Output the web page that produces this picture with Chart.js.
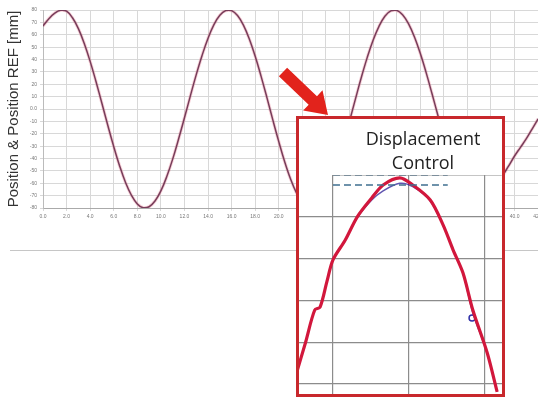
<!DOCTYPE html>
<html>
<head>
<meta charset="utf-8">
<script src="https://cdn.jsdelivr.net/npm/chart.js@4.4.1/dist/chart.umd.min.js"></script>
<style>
  html, body { margin: 0; padding: 0; background: #fff; overflow: hidden; }
  #wrap { position: absolute; left: 0; top: 0; width: 546px; height: 397px; }
  #inset { position: absolute; left: 296px; top: 116px; width: 203px; height: 275px;
           border: 3px solid #c8282c; background: #fff; }
  #insetWrap { position: absolute; left: 0; top: 0; width: 203px; height: 275px; }
  #insetLabel { position: absolute; left: 24px; top: 7px; width: 200px; text-align: center;
                font: 18px "Open Sans", sans-serif; line-height: 24px; color: #222; }
</style>
</head>
<body>
<div id="wrap"><canvas id="mainChart"></canvas></div>
<div id="inset">
  <div id="insetWrap"><canvas id="insetChart"></canvas></div>
  <div id="insetLabel">Displacement<br>Control</div>
</div>
<script>
const timeSec = [
  0, 0.5, 1, 1.5, 2, 2.5, 3, 3.5, 4, 4.5, 5, 5.5, 6, 6.5, 7, 7.5, 8, 8.5, 9, 9.5,
  10, 10.5, 11, 11.5, 12, 12.5, 13, 13.5, 14, 14.5, 15, 15.5, 16, 16.5, 17, 17.5,
  18, 18.5, 19, 19.5, 20, 20.5, 21, 21.5, 22, 22.5, 23, 23.5, 24, 24.5, 25, 25.5,
  26, 26.5, 27, 27.5, 28, 28.5, 29, 29.5, 30, 30.5, 31, 31.5, 32, 32.5, 33, 33.5,
  34, 34.5, 35, 35.5, 36, 36.5, 37, 37.5, 38, 38.5, 39, 39.5, 40, 40.5, 41, 41.5, 42
];
const positionMm = [
  67, 73, 77.5, 79.8, 79, 73.7, 65, 53, 38.5, 22, 4.5, -13.3, -30.4, -46, -59.4, -69.7, -76.7, -79.8, -79, -74.4,
  -66.2, -54.6, -40.5, -24.3, -7.1, 10.6, 27.8, 43.5, 57.2, 68.2, 75.7, 79.5, 79.5, 75.5, 67.8, 56.6,
  42.6, 26.4, 9, -9, -26.4, -42.6, -56.6, -67.8, -75.5, -79.5, -79.5, -75.6, -67.9, -56.9, -43, -27,
  -9.8, 8, 25.4, 41.5, 55.6, 66.8, 75, 79.3, 79.7, 76.2, 69, 58.4, 45, 29.4, 12.3, -5.3,
  -22.7, -39, -53.4, -65, -73.6, -78.7, -80, -78, -73, -65, -54, -46, -38, -31, -24, -16, -8
];
const yTicks = [-80, -70, -60, -50, -40, -30, -20, -10, 0, 10, 20, 30, 40, 50, 60, 70, 80];

// zoomed peak in the inset (grid units)
const insetX =   [-0.48, -0.36, -0.24, -0.17, -0.08, 0, 0.16, 0.32, 0.51, 0.66, 0.88, 1.05, 1.28, 1.45, 1.58, 1.71, 1.84, 2.03, 2.16];
const insetRef = [0.26, 1.0, 1.77, 1.84, 2.45, 2.97, 3.44, 4.0, 4.45, 4.76, 4.93, 4.76, 4.40, 3.80, 3.21, 2.66, 1.77, 0.74, -0.19];
const insetPos = [0.26, 1.0, 1.77, 1.84, 2.45, 2.97, 3.44, 3.98, 4.40, 4.62, 4.80, 4.72, 4.38, 3.80, 3.21, 2.66, 1.70, 0.74, -0.19];
const limitUpper = 5;
const limitLower = 4.76;
const limitSpan = [0, 1.51];
const markerAt = { x: 1.83, y: 1.58 };

const pairs = (xs, ys) => xs.map((x, i) => ({ x: x, y: ys[i] }));

const extras = {
  id: 'extras',
  afterDraw(chart) {
    const ctx = chart.ctx;
    ctx.save();
    // separator under the x axis
    ctx.strokeStyle = '#c6c6c6';
    ctx.lineWidth = 1;
    ctx.beginPath();
    ctx.moveTo(10, 250.5);
    ctx.lineTo(chart.width, 250.5);
    ctx.stroke();
    // red arrow pointing at the inset
    const tail = { x: 283, y: 72 }, tip = { x: 328, y: 115 };
    const len = Math.hypot(tip.x - tail.x, tip.y - tail.y);
    const ux = (tip.x - tail.x) / len, uy = (tip.y - tail.y) / len;
    const nx = -uy, ny = ux;
    const bx = tip.x - ux * 21, by = tip.y - uy * 21;
    const sw = 6, hw = 14;
    ctx.fillStyle = '#e2231c';
    ctx.beginPath();
    ctx.moveTo(tail.x + nx * sw, tail.y + ny * sw);
    ctx.lineTo(bx + nx * sw, by + ny * sw);
    ctx.lineTo(bx + nx * hw, by + ny * hw);
    ctx.lineTo(tip.x, tip.y);
    ctx.lineTo(bx - nx * hw, by - ny * hw);
    ctx.lineTo(bx - nx * sw, by - ny * sw);
    ctx.lineTo(tail.x - nx * sw, tail.y - ny * sw);
    ctx.closePath();
    ctx.fill();
    ctx.restore();
  }
};

new Chart(document.getElementById('mainChart'), {
  type: 'line',
  data: {
    datasets: [
      {
        label: 'Position REF',
        data: pairs(timeSec, positionMm),
        borderColor: 'rgba(232, 120, 140, 0.35)',
        borderWidth: 3.2,
        pointRadius: 0,
        tension: 0.4
      },
      {
        label: 'Position',
        data: pairs(timeSec, positionMm),
        borderColor: '#3b1e40',
        borderWidth: 1.5,
        pointRadius: 0,
        tension: 0.4
      }
    ]
  },
  options: {
    responsive: true,
    maintainAspectRatio: false,
    animation: false,
    layout: { padding: { top: 10, left: 0, right: 0, bottom: 0 } },
    plugins: { legend: { display: false }, tooltip: { enabled: false } },
    scales: {
      x: {
        type: 'linear',
        min: 0,
        max: 42,
        afterFit: (s) => { s.height = 189; },
        ticks: {
          stepSize: 2,
          autoSkip: false,
          maxRotation: 0,
          padding: 3,
          color: '#777',
          font: { size: 5 },
          callback: (v) => v.toFixed(1)
        },
        grid: { color: '#d8d8d8', tickLength: 3 },
        border: { color: '#aaa' }
      },
      y: {
        min: -80,
        max: 80,
        afterFit: (s) => { s.width = 43; },
        afterBuildTicks: (s) => { s.ticks = yTicks.map((v) => ({ value: v })); },
        ticks: {
          padding: 3,
          color: '#777',
          font: { size: 5 },
          callback: (v) => (v === 0 ? '0.0' : String(v))
        },
        grid: { color: '#d8d8d8', tickLength: 3 },
        border: { color: '#bbb' },
        title: {
          display: true,
          text: 'Position & Position REF [mm]',
          color: '#333',
          font: { family: 'Liberation Sans', size: 15 },
          padding: { top: 5, bottom: 0 }
        }
      }
    }
  },
  plugins: [extras]
});

new Chart(document.getElementById('insetChart'), {
  type: 'line',
  data: {
    datasets: [
      {
        label: 'frame',
        data: [{ x: 0, y: limitUpper }, { x: 2.22, y: limitUpper }],
        borderColor: '#8c8c8c',
        borderWidth: 1.2,
        pointRadius: 0
      },
      {
        label: 'upper',
        data: [{ x: limitSpan[0], y: limitUpper }, { x: limitSpan[1], y: limitUpper }],
        borderColor: '#3f6f90',
        borderWidth: 1.6,
        borderDash: [7, 4],
        pointRadius: 0
      },
      {
        label: 'lower',
        data: [{ x: limitSpan[0], y: limitLower }, { x: limitSpan[1], y: limitLower }],
        borderColor: '#3f6f90',
        borderWidth: 1.6,
        borderDash: [7, 4],
        pointRadius: 0
      },
      {
        label: 'Position REF',
        data: pairs(insetX, insetRef),
        borderColor: '#d2173c',
        borderWidth: 3.2,
        pointRadius: 0,
        tension: 0.3
      },
      {
        label: 'Position',
        data: pairs(insetX, insetPos),
        borderColor: 'rgba(44, 30, 150, 0.75)',
        borderWidth: 1.5,
        pointRadius: 0,
        tension: 0.3
      },
      {
        label: 'marker',
        data: [markerAt],
        showLine: false,
        pointRadius: 3,
        pointBorderWidth: 1.5,
        pointBorderColor: '#3030a8',
        pointBackgroundColor: '#fff'
      }
    ]
  },
  options: {
    responsive: true,
    maintainAspectRatio: false,
    animation: false,
    layout: { autoPadding: false, padding: { top: 56, left: 0, right: 0, bottom: 0 } },
    plugins: { legend: { display: false }, tooltip: { enabled: false } },
    scales: {
      x: {
        type: 'linear',
        min: -0.447,
        max: 2.224,
        afterFit: (s) => { s.height = 0; },
        afterBuildTicks: (s) => { s.ticks = [0, 1, 2].map((v) => ({ value: v })); },
        ticks: { display: false },
        grid: { color: '#8c8c8c', lineWidth: 1.2, drawTicks: false },
        border: { display: false }
      },
      y: {
        min: -0.24,
        max: 5,
        afterFit: (s) => { s.width = 0; },
        afterBuildTicks: (s) => { s.ticks = [0, 1, 2, 3, 4].map((v) => ({ value: v })); },
        ticks: { display: false },
        grid: { color: '#8c8c8c', lineWidth: 1.2, drawTicks: false },
        border: { display: false }
      }
    }
  }
});
</script>
</body>
</html>
